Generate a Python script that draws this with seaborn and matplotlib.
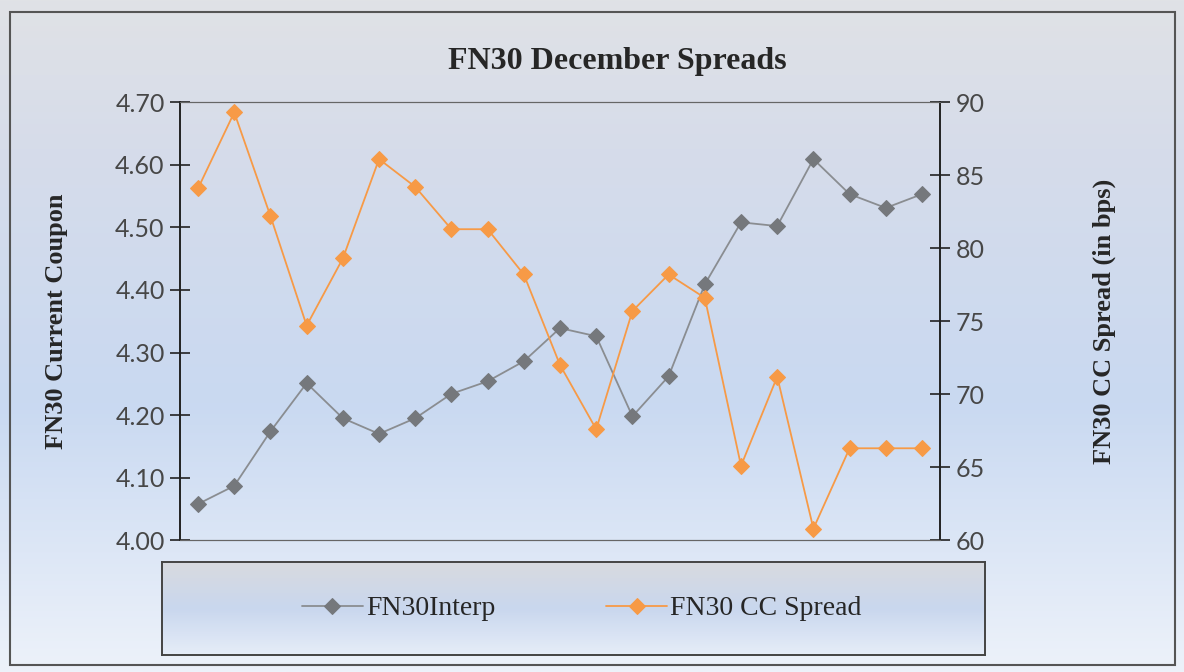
import numpy as np
import pandas as pd
import seaborn as sns
import matplotlib.pyplot as plt
from matplotlib.colors import LinearSegmentedColormap
from matplotlib.patches import Rectangle

obs = list(range(21))
fn30_interp = [4.058, 4.087, 4.174, 4.251, 4.195, 4.170, 4.195, 4.234, 4.254, 4.286, 4.339,
               4.326, 4.198, 4.262, 4.409, 4.508, 4.502, 4.609, 4.553, 4.531, 4.553]
fn30_cc_spread = [84.1, 89.3, 82.2, 74.7, 79.3, 86.1, 84.2, 81.3, 81.3, 78.2, 72.0,
                  67.6, 75.7, 78.2, 76.6, 65.1, 71.2, 60.8, 66.3, 66.3, 66.3]
left_ticks = [4.00, 4.10, 4.20, 4.30, 4.40, 4.50, 4.60, 4.70]
right_ticks = [60, 65, 70, 75, 80, 85, 90]

df = pd.DataFrame({"obs": obs, "interp": fn30_interp, "spread": fn30_cc_spread})

sns.set_theme(style="white")
plt.rcParams["font.family"] = ["Liberation Serif", "DejaVu Serif"]

GRAY = "#75787c"
ORANGE = "#f79a46"

fig = plt.figure(figsize=(11.84, 6.72), dpi=100)

# background gradient: grey at top, light blue in the middle, whitish at bottom
bg_cmap = LinearSegmentedColormap.from_list(
    "bg", [(0.0, "#e0e2e6"), (0.22, "#d6dcea"), (0.6, "#c9d9f1"), (1.0, "#edf2fa")])
bg = fig.add_axes([0, 0, 1, 1], zorder=-10)
bg.imshow(np.linspace(0, 1, 256).reshape(-1, 1), aspect="auto", cmap=bg_cmap,
          extent=[0, 1, 0, 1])
bg.set_axis_off()
fig.patches.append(Rectangle((10 / 1184, 7 / 672), 1165 / 1184, 653 / 672,
                             transform=fig.transFigure, fill=False,
                             edgecolor="#555555", linewidth=1.5))

ax = fig.add_axes([0.152, 0.196, 0.642, 0.652])
ax.patch.set_alpha(0)
sns.lineplot(data=df, x="obs", y="interp", ax=ax, color="#8a8d91", linewidth=1.3,
             marker="D", markersize=8, markerfacecolor=GRAY, markeredgecolor=GRAY,
             label="FN30Interp", legend=False)
ax.set_xlim(-0.5, 20.5)
ax.set_ylim(4.00, 4.70)
ax.set_yticks(left_ticks)
ax.set_yticklabels([f"{v:.2f}" for v in left_ticks])
ax.set_xticks([])
ax.set_xlabel("")
ax.set_ylabel("FN30 Current Coupon", fontsize=19, fontweight="bold", labelpad=34)

ax2 = ax.twinx()
ax2.patch.set_alpha(0)
sns.lineplot(data=df, x="obs", y="spread", ax=ax2, color=ORANGE, linewidth=1.3,
             marker="D", markersize=8, markerfacecolor=ORANGE, markeredgecolor=ORANGE,
             label="FN30 CC Spread", legend=False)
ax2.set_ylim(60, 90)
ax2.set_yticks(right_ticks)
ax2.set_ylabel("FN30 CC Spread (in bps)", fontsize=19, fontweight="bold", labelpad=78)

for a in (ax, ax2):
    a.tick_params(axis="y", direction="inout", length=14, width=1.2, color="#222222",
                  labelsize=18, labelcolor="#474747", pad=4)
    for lab in a.get_yticklabels():
        lab.set_fontfamily("Lato")
    a.spines["left"].set_color("#222222")
    a.spines["right"].set_color("#222222")
    a.spines["top"].set_color("#666666")
    a.spines["bottom"].set_color("#666666")
    a.spines["left"].set_linewidth(1.2)
    a.spines["right"].set_linewidth(1.2)
    a.spines["top"].set_linewidth(0.8)
    a.spines["bottom"].set_linewidth(0.8)

fig.text(0.521, 0.908, "FN30 December Spreads", ha="center", va="center",
         fontsize=23, fontweight="bold")

# legend box with its own gradient
leg_cmap = LinearSegmentedColormap.from_list(
    "leg", [(0.0, "#d8dadf"), (0.5, "#c9d7ee"), (1.0, "#e6edf8")])
lax = fig.add_axes([162 / 1184, 1 - 655 / 672, 823 / 1184, 93 / 672])
lax.imshow(np.linspace(0, 1, 256).reshape(-1, 1), aspect="auto", cmap=leg_cmap,
           extent=[0, 1, 0, 1])
lax.set_xticks([])
lax.set_yticks([])
for s in lax.spines.values():
    s.set_color("#444444")
    s.set_linewidth(1.4)
h1, l1 = ax.get_legend_handles_labels()
h2, l2 = ax2.get_legend_handles_labels()
lax.legend(h1 + h2, l1 + l2, loc="center", ncol=2, frameon=False, fontsize=20,
           handlelength=2.2, columnspacing=4.0, handletextpad=0.1,
           bbox_to_anchor=(0.51, 0.5))

fig.savefig("out.png", dpi=100)
